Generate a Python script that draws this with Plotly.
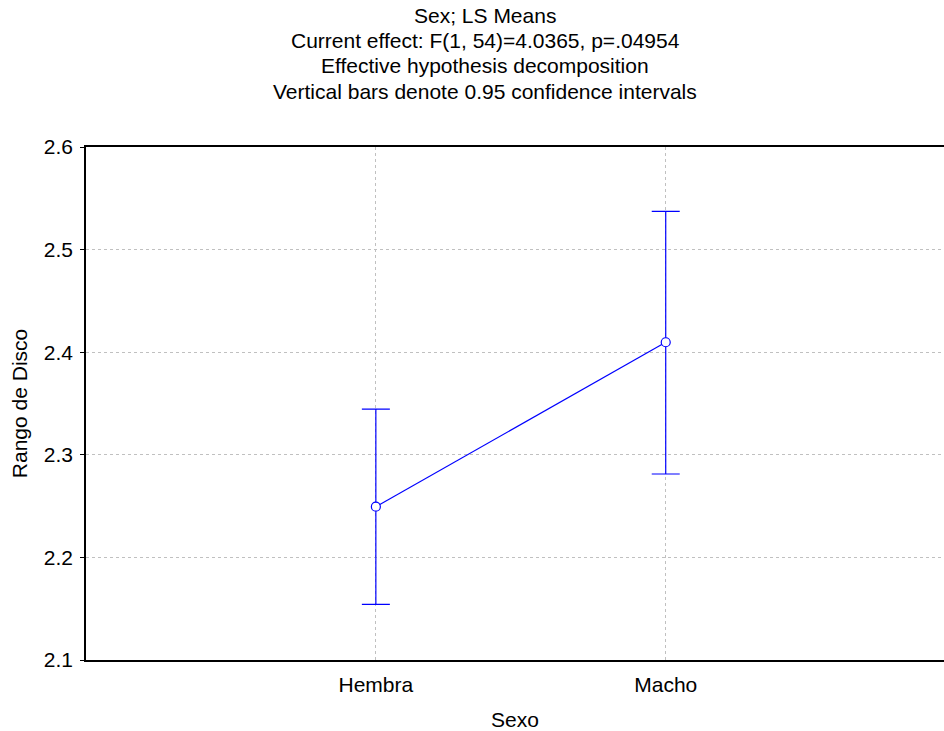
import plotly.graph_objects as go

categories = ["Hembra", "Macho"]
means = [2.2494, 2.4097]
upper = [2.3446, 2.5373]
lower = [2.1543, 2.2813]
y_ticks = [2.1, 2.2, 2.3, 2.4, 2.5, 2.6]
title_lines = [
    "Sex; LS Means",
    "Current effect: F(1, 54)=4.0365, p=.04954",
    "Effective hypothesis decomposition",
    "Vertical bars denote 0.95 confidence intervals",
]

FONT = "Liberation Sans, Arial, sans-serif"
BLUE = "#0000ff"

W, H = 944, 731
L, T, B = 86, 147, 71
PW, PH = W - L, H - T - B

xpos = list(range(len(categories)))
err_plus = [u - m for u, m in zip(upper, means)]
err_minus = [m - l for m, l in zip(means, lower)]

fig = go.Figure()
fig.add_trace(go.Scatter(
    x=xpos, y=means, mode="lines+markers",
    line=dict(color=BLUE, width=1.2),
    marker=dict(symbol="circle", size=9, color="white",
                line=dict(color=BLUE, width=1.2)),
    error_y=dict(type="data", symmetric=False, array=err_plus,
                 arrayminus=err_minus, color=BLUE, thickness=1.2, width=14),
    showlegend=False,
))

title_y = [15, 41, 66, 91]
for t, ya in zip(title_lines, title_y):
    fig.add_annotation(
        text=t, xref="paper", yref="paper",
        x=(485 - L) / PW, y=1 + (T - ya) / PH,
        xanchor="center", yanchor="middle", showarrow=False,
        font=dict(family=FONT, size=21, color="black"),
    )

fig.update_layout(
    width=W, height=H,
    margin=dict(l=L, r=0, t=T, b=B, pad=0),
    paper_bgcolor="white", plot_bgcolor="white",
    font=dict(family=FONT, size=21, color="black"),
    xaxis=dict(
        range=[-1, 1.96], tickmode="array", tickvals=xpos, ticktext=categories,
        showgrid=True, gridcolor="#c0c0c0", griddash="dot", gridwidth=1,
        showline=True, linecolor="black", linewidth=1.5, mirror=True,
        ticks="outside", ticklen=5, tickcolor="rgba(0,0,0,0)", zeroline=False,
        title=dict(text="Sexo", standoff=17, font=dict(size=21)),
        tickfont=dict(size=21),
    ),
    yaxis=dict(
        range=[2.1, 2.6], tickmode="array", tickvals=y_ticks,
        ticktext=[f"{v:.1f}" for v in y_ticks],
        showgrid=True, gridcolor="#c0c0c0", griddash="dot", gridwidth=1,
        showline=True, linecolor="black", linewidth=1.5, mirror=False,
        ticks="outside", ticklen=4, tickcolor="black", zeroline=False,
        ticklabelstandoff=3,
        title=dict(text="Rango de Disco", standoff=10, font=dict(size=21)),
        tickfont=dict(size=21),
    ),
)

fig.write_html("out.html", config={"displayModeBar": False},
               post_script="document.body.style.margin='0';")
